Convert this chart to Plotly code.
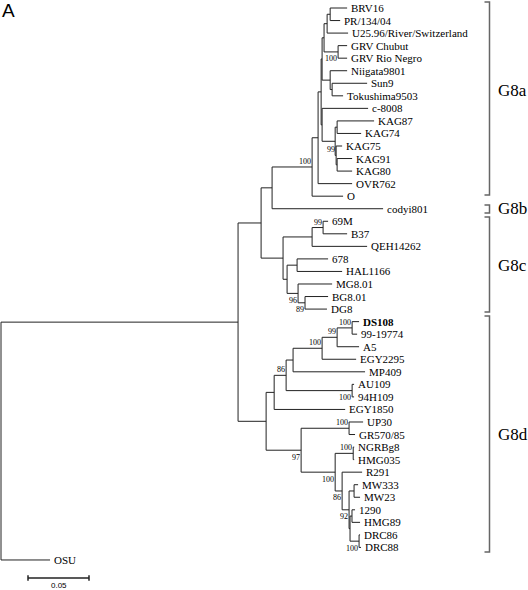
import plotly.graph_objects as go

# ---------------- data ----------------
leaf_order = [
    "BRV16", "PR/134/04", "U25.96/River/Switzerland", "GRV Chubut", "GRV Rio Negro",
    "Niigata9801", "Sun9", "Tokushima9503", "c-8008", "KAG87", "KAG74", "KAG75",
    "KAG91", "KAG80", "OVR762", "O", "codyi801", "69M", "B37", "QEH14262", "678",
    "HAL1166", "MG8.01", "BG8.01", "DG8", "DS108", "99-19774", "A5", "EGY2295",
    "MP409", "AU109", "94H109", "EGY1850", "UP30", "GR570/85", "NGRBg8", "HMG035",
    "R291", "MW333", "MW23", "1290", "HMG89", "DRC86", "DRC88", "OSU",
]

node_names = [
    "n_root", "n_main", "OSU", "n_abc", "n_d", "n_ab", "n_c", "codyi801", "n_a0", "O",
    "n_a1", "OVR762", "n_a2", "n_a3", "n_c8", "n_a4", "n_n1", "n_a5", "n_grv", "n_bp",
    "U25.96/River/Switzerland", "BRV16", "PR/134/04", "GRV Chubut", "GRV Rio Negro",
    "Niigata9801", "n_n2", "Sun9", "Tokushima9503", "c-8008", "n_k3", "n_k87", "n_k2",
    "KAG87", "KAG74", "KAG75", "n_k1", "KAG91", "KAG80",
    "n_q", "n_cl", "n_q1", "QEH14262", "69M", "B37", "n_h", "n_mg", "678", "HAL1166",
    "MG8.01", "n_bd", "BG8.01", "DG8",
    "n_da", "n_db", "n_d86", "EGY1850", "n_d93", "n_au", "AU109", "94H109", "n_d100",
    "MP409", "n_d99", "EGY2295", "n_ds", "A5", "DS108", "99-19774", "n_up", "n_db2",
    "UP30", "GR570/85", "n_ng", "n_r", "NGRBg8", "HMG035", "R291", "n_m1", "n_mw",
    "n_m2", "MW333", "MW23", "n_p", "n_drc", "1290", "HMG89", "DRC86", "DRC88",
]

node_parents = [
    None, "n_root", "n_root", "n_main", "n_main", "n_abc", "n_abc", "n_ab", "n_ab", "n_a0",
    "n_a0", "n_a1", "n_a1", "n_a2", "n_a2", "n_a3", "n_a3", "n_a4", "n_a4", "n_a5",
    "n_a5", "n_bp", "n_bp", "n_grv", "n_grv",
    "n_n1", "n_n1", "n_n2", "n_n2", "n_c8", "n_c8", "n_k3", "n_k3",
    "n_k87", "n_k87", "n_k2", "n_k2", "n_k1", "n_k1",
    "n_c", "n_c", "n_q", "n_q", "n_q1", "n_q1", "n_cl", "n_cl", "n_h", "n_h",
    "n_mg", "n_mg", "n_bd", "n_bd",
    "n_d", "n_d", "n_da", "n_da", "n_d86", "n_d86", "n_au", "n_au", "n_d93",
    "n_d93", "n_d100", "n_d100", "n_d99", "n_d99", "n_ds", "n_ds", "n_db", "n_db",
    "n_up", "n_up", "n_db2", "n_db2", "n_ng", "n_ng", "n_r", "n_r", "n_m1",
    "n_m1", "n_mw", "n_mw", "n_m2", "n_m2", "n_p", "n_p", "n_drc", "n_drc",
]

branch_lengths = [
    0.0, 0.1943, 0.0402, 0.0189, 0.0230, 0.0090, 0.0180, 0.0910, 0.0328, 0.0254,
    0.0049, 0.0279, 0.0025, 0.0008, 0.0008, 0.0016, 0.0066, 0.0025, 0.0115, 0.0025,
    0.0172, 0.0139, 0.0082, 0.0074, 0.0074,
    0.0139, 0.0016, 0.0287, 0.0090, 0.0377, 0.0107, 0.0016, 0.0008,
    0.0303, 0.0197, 0.0049, 0.0008, 0.0123, 0.0123,
    0.0238, 0.0033, 0.0090, 0.0451, 0.0041, 0.0197, 0.0082, 0.0090, 0.0254, 0.0369,
    0.0279, 0.0057, 0.0189, 0.0180,
    0.0066, 0.0287, 0.0098, 0.0582, 0.0057, 0.0541, 0.0016, 0.0016, 0.0238,
    0.0590, 0.0123, 0.0279, 0.0123, 0.0180, 0.0057, 0.0041, 0.0393, 0.0279,
    0.0115, 0.0049, 0.0148, 0.0057, 0.0008, 0.0008, 0.0164, 0.0057, 0.0041,
    0.0008, 0.0033, 0.0049, 0.0016, 0.0074, 0.0025, 0.0066, 0.0008, 0.0016,
]

bootstrap_nodes = ["n_grv", "n_k2", "n_a0", "n_q1", "n_mg", "n_bd", "n_ds", "n_d99",
                   "n_d100", "n_d86", "n_au", "n_up", "n_db", "n_ng", "n_db2", "n_r",
                   "n_m1", "n_drc"]
bootstrap_values = [100, 99, 100, 99, 96, 89, 100, 99, 100, 86, 100, 100, 97, 100,
                    100, 86, 92, 100]

group_names = ["G8a", "G8b", "G8c", "G8d"]
group_first = ["BRV16", "codyi801", "69M", "DS108"]
group_last = ["O", "codyi801", "DG8", "DRC88"]

scale_bar_length = 0.05
scale_bar_label = "0.05"
panel_label = "A"
bold_leaves = ["DS108"]

# ---------------- style ----------------
W, H = 528, 590
PX_PER_UNIT = 1220.0
ROOT_PX = 1.0
ROW0_PX = 8.0
ROW_PX = 12.545
SERIF = "Liberation Serif, Times New Roman, serif"
SANS = "Liberation Sans, Arial, sans-serif"
boot_below = {"n_grv", "n_mg", "n_bd", "n_au", "n_db", "n_db2", "n_r", "n_m1", "n_drc"}
bracket_px = 489.5
bracket_tick_px = 5
bracket_pad = {"G8a": (-0.48, -0.1), "G8b": (-0.3, 0.34), "G8c": (-0.34, 0.23), "G8d": (-0.45, 0.36)}
group_label_row = {"G8a": 6.6, "G8b": 16.0, "G8c": 20.5, "G8d": 34.0}
scale_bar_start_px = 28
scale_bar_row = 45.44

# ---------------- tree layout ----------------
parent_of = dict(zip(node_names, node_parents))
blen = dict(zip(node_names, branch_lengths))
children = {n: [] for n in node_names}
for n, p in zip(node_names, node_parents):
    if p is not None:
        children[p].append(n)

depth = {}
def set_depth(n, d):
    depth[n] = d
    for c in children[n]:
        set_depth(c, d + blen[c])
set_depth("n_root", 0.0)

ypos = {name: i for i, name in enumerate(leaf_order)}
def set_y(n):
    if n in ypos:
        return ypos[n]
    ys = [set_y(c) for c in children[n]]
    ypos[n] = (min(ys) + max(ys)) / 2.0
    return ypos[n]
set_y("n_root")

lx, ly = [], []
for n in node_names:
    p = parent_of[n]
    if p is not None:
        lx += [depth[p], depth[n], None]
        ly += [ypos[n], ypos[n], None]
    if children[n]:
        cy = [ypos[c] for c in children[n]]
        lx += [depth[n], depth[n], None]
        ly += [min(cy), max(cy), None]

fig = go.Figure()
fig.add_trace(go.Scatter(x=lx, y=ly, mode="lines", line=dict(color="#222222", width=1),
                         hoverinfo="skip", showlegend=False))

u = 1.0 / PX_PER_UNIT
annotations = []
for name in leaf_order:
    txt = f"<b>{name}</b>" if name in bold_leaves else name
    annotations.append(dict(x=depth[name], y=ypos[name], text=txt, showarrow=False,
                            xanchor="left", yanchor="middle", xshift=2, yshift=0,
                            font=dict(family=SERIF, size=11, color="black")))

for n, v in zip(bootstrap_nodes, bootstrap_values):
    annotations.append(dict(x=depth[n], y=ypos[n], text=str(v), showarrow=False,
                            xanchor="right", yanchor="middle", xshift=1,
                            yshift=-7 if n in boot_below else 5.5,
                            font=dict(family=SERIF, size=8, color="black")))

# group brackets
bx, by = [], []
for g, a, b in zip(group_names, group_first, group_last):
    top = ypos[a] + bracket_pad[g][0]
    bot = ypos[b] + bracket_pad[g][1]
    xb = (bracket_px - ROOT_PX) * u
    xt = xb - bracket_tick_px * u
    bx += [xt, xb, xb, xt, None]
    by += [top, top, bot, bot, None]
    annotations.append(dict(x=xb, y=group_label_row[g], text=g, showarrow=False,
                            xanchor="left", yanchor="middle", xshift=6,
                            font=dict(family=SERIF, size=17, color="black")))
fig.add_trace(go.Scatter(x=bx, y=by, mode="lines", line=dict(color="#666666", width=1.5),
                         hoverinfo="skip", showlegend=False))

# scale bar
sx0 = (scale_bar_start_px - ROOT_PX) * u
sx1 = sx0 + scale_bar_length
tick = 0.22
fig.add_trace(go.Scatter(x=[sx0, sx1, None, sx0, sx0, None, sx1, sx1],
                         y=[scale_bar_row, scale_bar_row, None, scale_bar_row - tick,
                            scale_bar_row + tick, None, scale_bar_row - tick, scale_bar_row + tick],
                         mode="lines", line=dict(color="#222222", width=1.5),
                         hoverinfo="skip", showlegend=False))
annotations.append(dict(x=(sx0 + sx1) / 2, y=scale_bar_row, text=scale_bar_label, showarrow=False,
                        xanchor="center", yanchor="middle", yshift=-7.5, borderpad=0,
                        font=dict(family=SANS, size=8, color="black")))

annotations.append(dict(xref="paper", yref="paper", x=0.0, y=1.0, text=panel_label,
                        showarrow=False, xanchor="left", yanchor="top", xshift=0, yshift=2,
                        font=dict(family=SANS, size=19, color="black")))

x0 = -ROOT_PX * u
fig.update_layout(
    width=W, height=H, margin=dict(l=0, r=0, t=0, b=0),
    paper_bgcolor="white", plot_bgcolor="white",
    xaxis=dict(range=[x0, x0 + W * u], visible=False, fixedrange=True),
    yaxis=dict(range=[(H - ROW0_PX) / ROW_PX, -ROW0_PX / ROW_PX], visible=False, fixedrange=True),
    annotations=annotations,
)

fig.write_html("out.html", config={"displayModeBar": False},
               post_script="document.body.style.margin='0';document.body.style.overflow='hidden';")
